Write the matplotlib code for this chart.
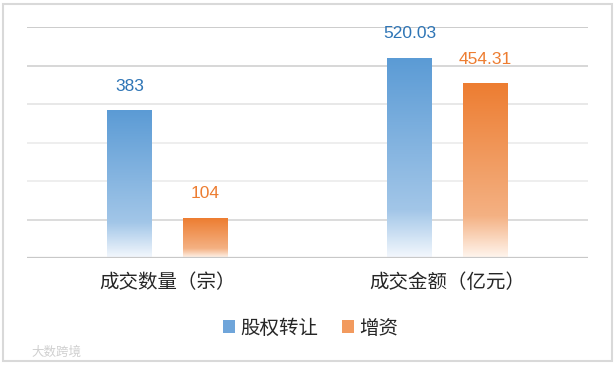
import matplotlib.pyplot as plt
import numpy as np
from matplotlib.colors import to_rgb
from matplotlib.patches import Patch, Rectangle

plt.rcParams["font.family"] = ["Noto Sans CJK SC", "DejaVu Sans"]

categories = ["成交数量（宗）", "成交金额（亿元）"]
series_names = ["股权转让", "增资"]
transfer_vals = [383, 520.03]
capital_vals = [104, 454.31]
value_labels = [["383", "520.03"], ["104", "454.31"]]

BLUE = ("#5B9BD5", "#A2C6E8", "#F4F8FD")
ORANGE = ("#ED7D31", "#F4B183", "#FFF6EF")
TEXT_COLORS = ["#2E75B6", "#ED7D31"]


def gradient(colors, n=256, stop=0.76):
    top, mid, bot = (np.array(to_rgb(c)) for c in colors)
    t = np.linspace(0, 1, n)[:, None]  # 0 = top, 1 = bottom
    a = np.clip(t / stop, 0, 1)
    b = np.clip((t - stop) / (1 - stop), 0, 1)
    upper = top + (mid - top) * a
    lower = mid + (bot - mid) * b
    img = np.where(t <= stop, upper, lower)
    return img[:, None, :]


fig = plt.figure(figsize=(6.16, 3.65), dpi=100)
ax = fig.add_axes([27 / 616, 1 - 258 / 365, 561 / 616, 230.7 / 365])

x = np.arange(len(categories))
offset = 0.135
width = 0.16

grid_colors = ["#D9D9D9", "#EDEDED", "#EDEDED", "#E6E6E6", "#D4D4D4", "#C8C8C8"]
for val, col in zip(range(100, 700, 100), grid_colors):
    ax.axhline(val, color=col, lw=1.3, zorder=0)
ax.axhline(0, color="#C8C8C8", lw=1.6, zorder=3)

for i, (vals, cols) in enumerate([(transfer_vals, BLUE), (capital_vals, ORANGE)]):
    pos = x + (-offset if i == 0 else offset)
    bars = ax.bar(pos, vals, width=width, color="none", edgecolor="none")
    img = gradient(cols)
    for bar, lab in zip(bars, value_labels[i]):
        x0 = bar.get_x()
        h = bar.get_height()
        ax.imshow(img, extent=[x0, x0 + bar.get_width(), 0, h],
                  aspect="auto", zorder=2, interpolation="bilinear")
        ax.annotate(lab, (x0 + bar.get_width() / 2, h), xytext=(0, 12),
                    textcoords="offset points", ha="center", va="bottom",
                    fontsize=12.5, color=TEXT_COLORS[i],
                    family=["Liberation Sans", "DejaVu Sans"])

ax.set_xlim(-0.5, 1.5)
ax.set_ylim(0, 600)
ax.set_xticks(x)
ax.set_xticklabels(categories, fontsize=14, color="#262626")
ax.tick_params(axis="x", length=0, pad=10)
ax.set_yticks([])
for s in ax.spines.values():
    s.set_visible(False)

handles = [Patch(facecolor="#6FA5DA", edgecolor="none"),
           Patch(facecolor="#F29A5E", edgecolor="none")]
fig.legend(handles, series_names, loc="center", bbox_to_anchor=(311 / 616, 1 - 328 / 365),
           ncol=2, frameon=False, fontsize=14, handlelength=0.6, handleheight=0.6,
           handletextpad=0.3, columnspacing=1.2, labelcolor="#262626")

fig.text(31 / 616, 1 - 352 / 365, "大数跨境", fontsize=9, color="#D0D0D0", va="center")

fig.patches.append(Rectangle((3 / 616, 4 / 365), 609 / 616, 357 / 365,
                             transform=fig.transFigure, fill=False,
                             edgecolor="#D9D9D9", lw=1.5))

fig.savefig("out.png", dpi=100)
